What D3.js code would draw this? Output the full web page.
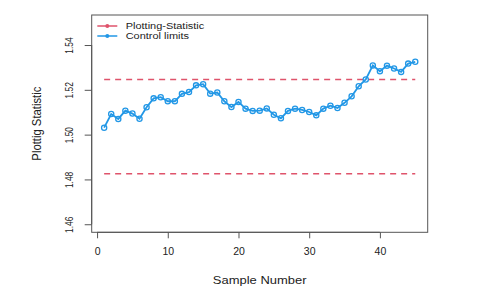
<!DOCTYPE html>
<html>
<head>
<meta charset="utf-8">
<script src="https://cdn.jsdelivr.net/npm/d3@7"></script>
<style>
  body { margin: 0; background: #fff; }
  text { font-family: "Liberation Sans", Arial, sans-serif; fill: #222; }
</style>
</head>
<body>
<div id="chart"></div>
<script>
// Plotting statistic per sample
const samples = d3.range(1, 46);
const stat = [
  1.5031, 1.5092, 1.5070, 1.5107, 1.5094, 1.5071, 1.5122, 1.5162, 1.5167, 1.5149,
  1.5149, 1.5182, 1.5190, 1.5220, 1.5225, 1.5183, 1.5188, 1.5149, 1.5123, 1.5146,
  1.5116, 1.5106, 1.5107, 1.5117, 1.5089, 1.5073, 1.5106, 1.5116, 1.5110, 1.5101,
  1.5086, 1.5116, 1.5129, 1.5119, 1.5142, 1.5171, 1.5216, 1.5246, 1.5309, 1.5283,
  1.5308, 1.5295, 1.5280, 1.5317, 1.5325
];
const limits = [1.5246, 1.4825];
const yTicks = [1.46, 1.48, 1.50, 1.52, 1.54];
const xTicks = [0, 10, 20, 30, 40];
const legendLabels = ['Plotting-Statistic', 'Control limits'];

const width = 490, height = 295;
const margin = { left: 91.7, right: 490 - 427.7, top: 15, bottom: 295 - 232.3 };
const red = '#DF536B', blue = '#2297E6';

const svg = d3.select('#chart').append('svg')
  .attr('width', width)
  .attr('height', height);

const x = d3.scaleLinear()
  .domain([1 - 44 * 0.04, 45 + 44 * 0.04])
  .range([margin.left, width - margin.right]);
const y = d3.scaleLinear()
  .domain([1.4564, 1.5534])
  .range([height - margin.bottom, margin.top]);

// control limits
svg.selectAll('.limit')
  .data(limits)
  .enter().append('line')
  .attr('class', 'limit')
  .attr('x1', x(1))
  .attr('x2', x(45))
  .attr('y1', d => y(d))
  .attr('y2', d => y(d))
  .attr('stroke', red)
  .attr('stroke-width', 1.5)
  .attr('stroke-dasharray', '6,5');

// series line + points
const line = d3.line()
  .x((d, i) => x(samples[i]))
  .y(d => y(d));

svg.append('path')
  .datum(stat)
  .attr('d', line)
  .attr('fill', 'none')
  .attr('stroke', blue)
  .attr('stroke-width', 1.8);

svg.selectAll('.pt')
  .data(stat)
  .enter().append('circle')
  .attr('class', 'pt')
  .attr('cx', (d, i) => x(samples[i]))
  .attr('cy', d => y(d))
  .attr('r', 2.6)
  .attr('fill', 'none')
  .attr('stroke', blue)
  .attr('stroke-width', 1.3);

// box
svg.append('rect')
  .attr('x', margin.left)
  .attr('y', margin.top)
  .attr('width', width - margin.left - margin.right)
  .attr('height', height - margin.top - margin.bottom)
  .attr('fill', 'none')
  .attr('stroke', '#555')
  .attr('stroke-width', 1);

// y axis
const yAxis = svg.append('g')
  .attr('transform', `translate(${margin.left},0)`)
  .call(d3.axisLeft(y).tickValues(yTicks).tickFormat(d3.format('.2f')).tickSize(7).tickPadding(0));
yAxis.select('.domain').attr('d', `M-0,${y(1.46)}V${y(1.54)}`).attr('stroke', '#555');
yAxis.selectAll('.tick line').attr('stroke', '#555');
yAxis.selectAll('.tick text')
  .attr('x', 0).attr('dy', 0)
  .attr('transform', 'translate(-22.5,0) rotate(-90) scale(1,1.25)')
  .attr('text-anchor', 'middle')
  .attr('dominant-baseline', 'central')
  .style('font-size', '8.4px')
  .style('fill', '#222');

// x axis
const xAxis = svg.append('g')
  .attr('transform', `translate(0,${height - margin.bottom})`)
  .call(d3.axisBottom(x).tickValues(xTicks).tickSize(6).tickPadding(9));
xAxis.select('.domain').attr('d', `M${x(0)},0H${x(40)}`).attr('stroke', '#555');
xAxis.selectAll('.tick line').attr('stroke', '#555');
xAxis.selectAll('.tick text')
  .style('font-size', '10.5px')
  .style('fill', '#222');

// axis titles
svg.append('text')
  .attr('transform', `translate(${(margin.left + width - margin.right) / 2},280) scale(1.18,1)`)
  .attr('text-anchor', 'middle')
  .attr('dominant-baseline', 'central')
  .style('font-size', '11px')
  .text('Sample Number');

svg.append('text')
  .attr('transform', `translate(36.5,${(margin.top + height - margin.bottom) / 2}) rotate(-90) scale(1,1.18)`)
  .attr('text-anchor', 'middle')
  .attr('dominant-baseline', 'central')
  .style('font-size', '11.3px')
  .text('Plottig Statistic');

// legend
const legend = svg.append('g');
legendLabels.forEach((lab, i) => {
  const ly = 26 + i * 10;
  const col = i === 0 ? red : blue;
  legend.append('line')
    .attr('x1', 97.3).attr('x2', 117.3)
    .attr('y1', ly).attr('y2', ly)
    .attr('stroke', col).attr('stroke-width', 1.5);
  legend.append('circle')
    .attr('cx', 107.3).attr('cy', ly).attr('r', 2)
    .attr('fill', col);
  legend.append('text')
    .attr('transform', `translate(125.7,${ly}) scale(1.18,1)`)
    .attr('dominant-baseline', 'central')
    .style('font-size', '9.3px')
    .text(lab);
});
</script>
</body>
</html>
